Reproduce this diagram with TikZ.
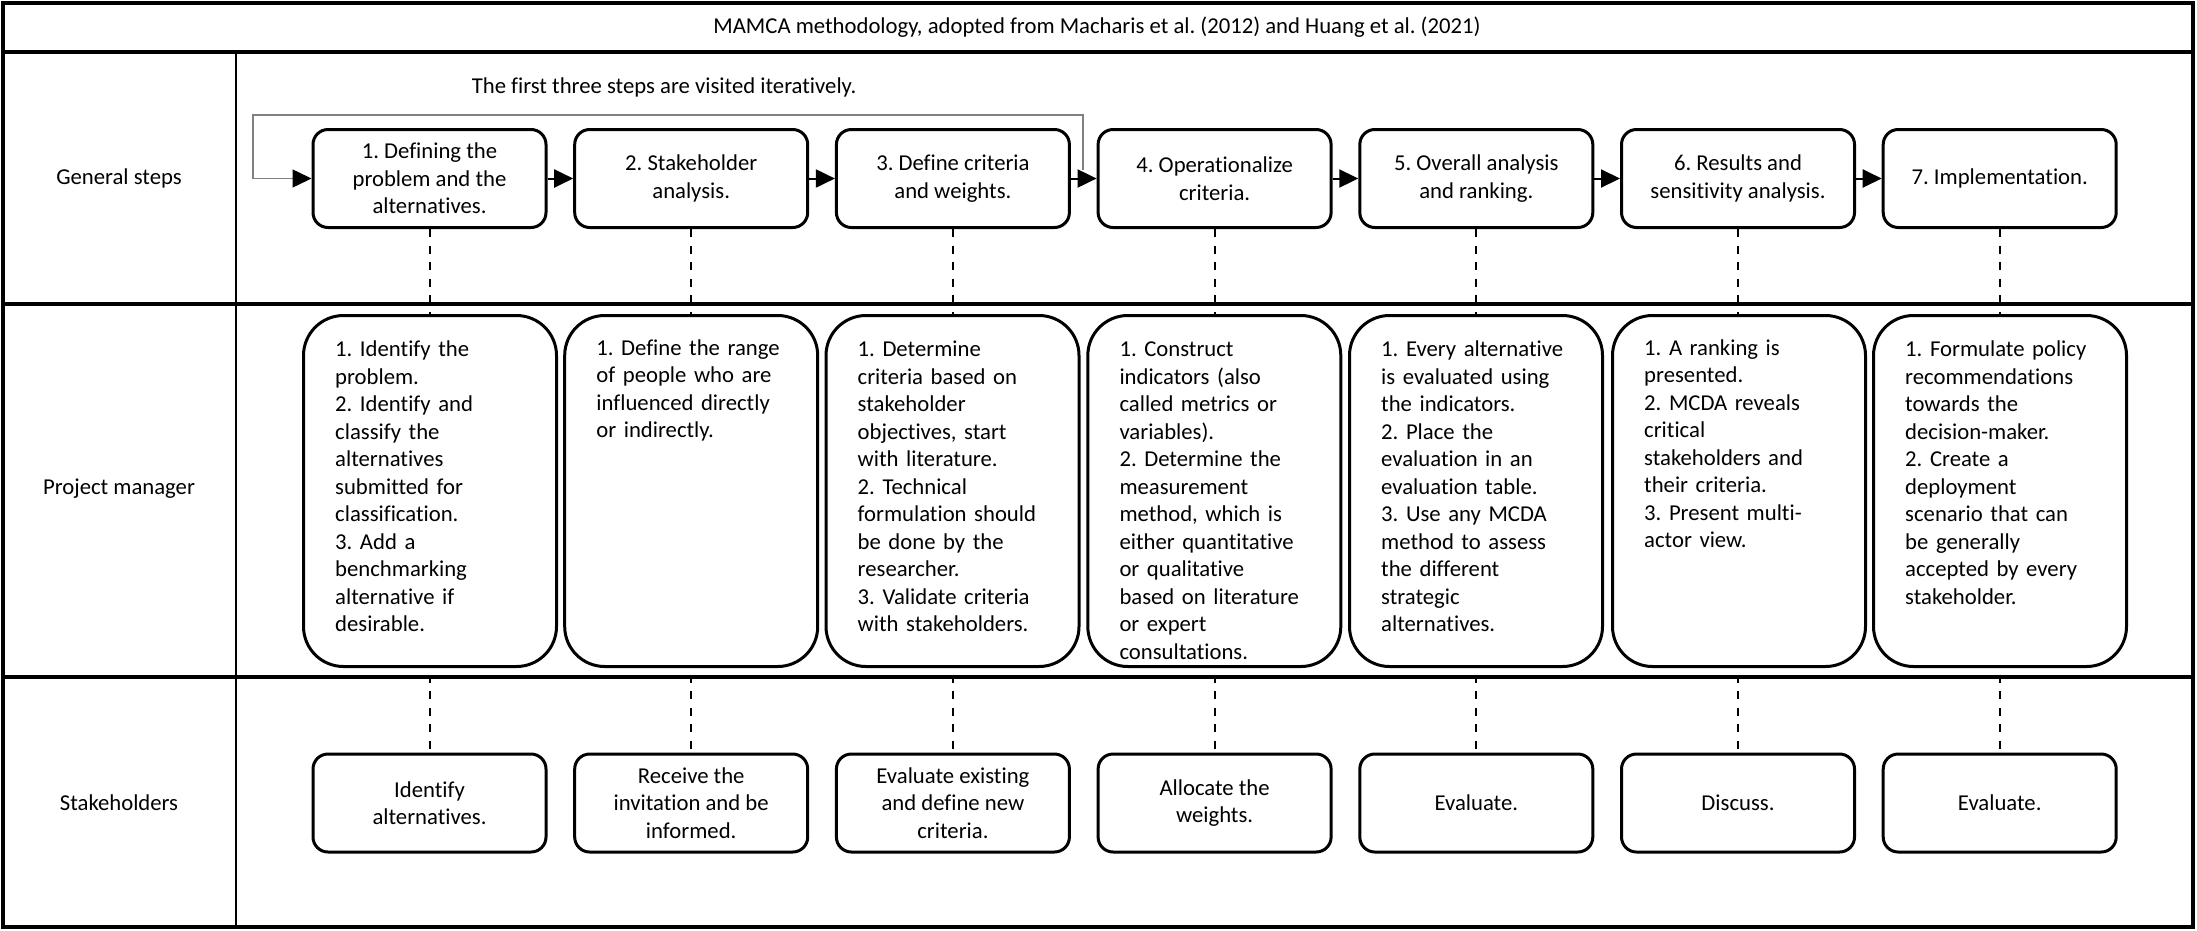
\documentclass[tikz,border=0pt]{standalone}
\usepackage{fontspec}
\setmainfont{Carlito}[Ligatures=NoCommon]
\usetikzlibrary{arrows.meta}
\definecolor{loopgray}{gray}{0.5}
\frenchspacing

\begin{document}
\begin{tikzpicture}[x=1pt,y=-1pt,
  every node/.style={font=\fontsize{22.7}{27.5}\selectfont, text=black},
  stepbox/.style={draw, line width=3pt, rounded corners=15pt, minimum width=233pt,
    minimum height=98pt, align=center, inner sep=0pt},
  pmbox/.style={draw, fill=white, line width=3pt, rounded corners=40pt,
    minimum width=253pt, minimum height=351pt, inner sep=0pt},
  pmtext/.style={anchor=base west, text width=215pt, align=left, inner sep=0pt},
  frameline/.style={line width=3.5pt},
  flow/.style={line width=2pt, -{Triangle[length=19pt,width=18pt]}},
  loopline/.style={line width=1.5pt, draw=loopgray,
    -{Triangle[length=19pt,width=18pt,color=black]}},
  dashline/.style={line width=2pt, dash pattern=on 8pt off 8.5pt},
  lanelabel/.style={inner sep=0pt}
]
\useasboundingbox (0,0) rectangle (2197,930);

% table frame and lanes
\draw[frameline] (3,3) rectangle (2193,927);
\draw[frameline] (3,52) -- (2193,52);
\draw[frameline] (3,304) -- (2193,304);
\draw[frameline] (3,677) -- (2193,677);
\draw[line width=2.5pt] (236,52) -- (236,927);

\node[lanelabel] (title) at (1097,27)
  {MAMCA methodology, adopted from Macharis et al. (2012) and Huang et al. (2021)};
\node[lanelabel] (lbGS) at (119,178) {General steps};
\node[lanelabel] (lbPM) at (119,489) {Project manager};
\node[lanelabel] (lbSH) at (119,803) {Stakeholders};
\node[lanelabel] (iter) at (664,87) {The first three steps are visited iteratively.};

% general steps
\node[stepbox] (g1) at (429.5,178.5) {1. Defining the\\problem and the\\alternatives.};
\node[stepbox] (g2) at (691.2,178.5) {2. Stakeholder\\analysis.};
\node[stepbox] (g3) at (952.9,178.5) {3. Define criteria\\and weights.};
\node[stepbox] (g4) at (1214.6,178.5) {4. Operationalize\\criteria.};
\node[stepbox] (g5) at (1476.3,178.5) {5. Overall analysis\\and ranking.};
\node[stepbox] (g6) at (1738.0,178.5) {6. Results and\\sensitivity analysis.};
\node[stepbox] (g7) at (1999.7,178.5) {7. Implementation.};

\draw[flow] (g1.east) -- (g2.west);
\draw[flow] (g2.east) -- (g3.west);
\draw[flow] (g3.east) -- (g4.west);
\draw[flow] (g4.east) -- (g5.west);
\draw[flow] (g5.east) -- (g6.west);
\draw[flow] (g6.east) -- (g7.west);

% iteration loop over the first three steps
\coordinate (loopStart) at (1083,170);
\draw[loopline] (loopStart) |- (253,115) |- (g1.west);

% stakeholder activities
\node[stepbox] (s1) at (429.5,803) {Identify\\alternatives.};
\node[stepbox] (s2) at (691.2,803) {Receive the\\invitation and be\\informed.};
\node[stepbox] (s3) at (952.9,803) {Evaluate existing\\and define new\\criteria.};
\node[stepbox] (s4) at (1214.6,803) {Allocate the\\weights.};
\node[stepbox] (s5) at (1476.3,803) {Evaluate.};
\node[stepbox] (s6) at (1738.0,803) {Discuss.};
\node[stepbox] (s7) at (1999.7,803) {Evaluate.};

% vertical links from each step to its stakeholder activity
\draw[dashline] (g1.south) -- (s1.north);
\draw[dashline] (g2.south) -- (s2.north);
\draw[dashline] (g3.south) -- (s3.north);
\draw[dashline] (g4.south) -- (s4.north);
\draw[dashline] (g5.south) -- (s5.north);
\draw[dashline] (g6.south) -- (s6.north);
\draw[dashline] (g7.south) -- (s7.north);

% project manager tasks
\node[pmbox] (p1) at (430,491) {};
\node[pmbox] (p2) at (691.2,491) {};
\node[pmbox] (p3) at (952.5,491) {};
\node[pmbox] (p4) at (1214.3,491) {};
\node[pmbox] (p5) at (1476,491) {};
\node[pmbox] (p6) at (1739,491) {};
\node[pmbox] (p7) at (2000,491) {};

\node[pmtext] (p1t) at ([xshift=33pt,yshift=-42.9pt]p1.north west)
  {1. Identify the\\problem.\\2. Identify and\\classify the\\alternatives\\submitted for\\classification.\\3. Add a\\benchmarking\\alternative if\\desirable.};
\node[pmtext] (p2t) at ([xshift=33pt,yshift=-41pt]p2.north west)
  {1. Define the range\\of people who are\\influenced directly\\or indirectly.};
\node[pmtext] (p3t) at ([xshift=33pt,yshift=-42.9pt]p3.north west)
  {1. Determine\\criteria based on\\stakeholder\\objectives, start\\with literature.\\2. Technical\\formulation should\\be done by the\\researcher.\\3. Validate criteria\\with stakeholders.};
\node[pmtext] (p4t) at ([xshift=33pt,yshift=-42.9pt]p4.north west)
  {1. Construct\\indicators (also\\called metrics or\\variables).\\2. Determine the\\measurement\\method, which is\\either quantitative\\or qualitative\\based on literature\\or expert\\consultations.};
\node[pmtext] (p5t) at ([xshift=33pt,yshift=-42.9pt]p5.north west)
  {1. Every alternative\\is evaluated using\\the indicators.\\2. Place the\\evaluation in an\\evaluation table.\\3. Use any MCDA\\method to assess\\the different\\strategic\\alternatives.};
\node[pmtext] (p6t) at ([xshift=33pt,yshift=-41pt]p6.north west)
  {1. A ranking is\\presented.\\2. MCDA reveals\\critical\\stakeholders and\\their criteria.\\3. Present multi-\\actor view.};
\node[pmtext] (p7t) at ([xshift=33pt,yshift=-42.9pt]p7.north west)
  {1. Formulate policy\\recommendations\\towards the\\decision-maker.\\2. Create a\\deployment\\scenario that can\\be generally\\accepted by every\\stakeholder.};

\end{tikzpicture}
\end{document}
